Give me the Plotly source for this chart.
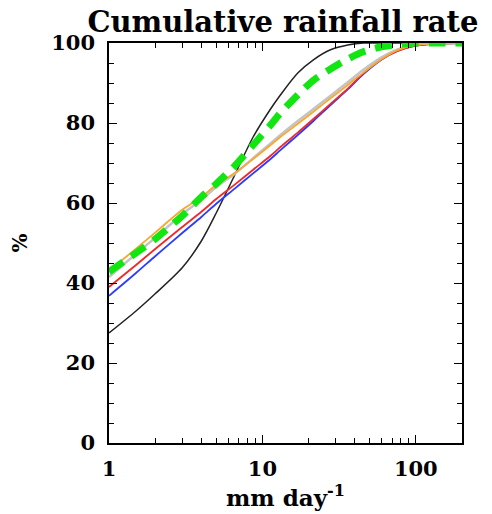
import plotly.graph_objects as go

# Rain rate grid (mm/day) and cumulative contribution (%) for each dataset
rate = [1, 1.5, 2, 3, 4, 5, 6.6, 8.7, 11.3, 13.1, 17, 21.5, 27.8, 36, 45.5, 59, 76, 98, 130, 200]

black_pct = [27.5, 33.0, 37.3, 43.8, 50.5, 57.5, 67.0, 76.5, 83.5, 87.0, 92.5, 95.8, 98.3, 99.5, 100, 100, 100, 100, 100, 100]
blue_pct = [36.8, 42.5, 46.7, 52.5, 56.5, 59.8, 63.6, 67.4, 71.0, 73.2, 77.0, 80.5, 84.5, 88.4, 92.2, 95.7, 98.0, 99.3, 99.8, 100]
red_pct = [39.0, 44.5, 48.5, 54.0, 57.8, 61.0, 64.6, 68.3, 71.8, 74.0, 77.6, 81.0, 84.8, 88.6, 92.4, 95.8, 98.0, 99.3, 99.8, 100]
gray_pct = [41.5, 47.3, 51.3, 57.2, 60.8, 64.0, 67.3, 71.2, 74.9, 77.0, 80.5, 83.5, 86.8, 90.2, 93.3, 96.3, 98.4, 99.6, 99.9, 100]
orange_pct = [43.0, 48.6, 52.6, 58.3, 61.5, 64.5, 67.5, 71.0, 74.5, 76.5, 79.8, 82.8, 86.2, 89.5, 92.6, 95.8, 98.2, 99.5, 99.9, 100]
green_pct = [42.8, 47.5, 51.0, 56.8, 61.5, 64.8, 69.3, 74.5, 79.5, 82.5, 87.0, 90.7, 93.5, 96.0, 97.8, 99.0, 99.6, 100, 100, 100]

series = [
    (black_pct, "#222222", 1.5, "solid"),
    (blue_pct, "#2a3cff", 1.8, "solid"),
    (red_pct, "#f02828", 1.8, "solid"),
    (gray_pct, "#c4c4c4", 2.5, "solid"),
    (orange_pct, "#f7a830", 1.8, "solid"),
    (green_pct, "#11e611", 7, "17px,10px"),
]

fig = go.Figure()
for vals, col, w, dash in series:
    fig.add_trace(go.Scatter(
        x=rate, y=vals, mode="lines",
        line=dict(color=col, width=w, dash=dash, shape="spline", smoothing=0.8),
        showlegend=False, hoverinfo="skip",
    ))

font_family = "DejaVu Serif"
axis_common = dict(
    showgrid=False, zeroline=False, automargin=False,
    showline=True, linecolor="black", linewidth=1.5,
    mirror="ticks", ticks="inside", ticklen=8, tickwidth=1.2, tickcolor="black",
    tickfont=dict(family=font_family, size=21, color="black", weight="bold"),
)

fig.update_xaxes(
    type="log", range=[0, 2.301],
    tickvals=[1, 10, 100], ticktext=["1", "10", "100"],
    minor=dict(ticks="inside", ticklen=5, tickwidth=1.2, tickcolor="black",
               tickvals=[2, 3, 4, 5, 6, 7, 8, 9, 20, 30, 40, 50, 60, 70, 80, 90, 200]),
    ticklabelstandoff=6,
    title=dict(text="mm day<sup>-1</sup>", standoff=10,
               font=dict(family=font_family, size=23, color="black", weight="bold")),
    **axis_common,
)
fig.update_yaxes(
    range=[0, 100], tickvals=[0, 20, 40, 60, 80, 100],
    minor=dict(ticks="inside", ticklen=5, tickwidth=1.2, tickcolor="black", dtick=5),
    ticklabelstandoff=8,
    title=dict(text="%", standoff=18,
               font=dict(family=font_family, size=20, color="black", weight="bold")),
    **axis_common,
)

fig.update_layout(
    width=492, height=514,
    margin=dict(l=109, r=30, t=43, b=71),
    paper_bgcolor="white", plot_bgcolor="white",
    title=dict(text="Cumulative rainfall rate", x=0.575, xanchor="center", y=0.957, yanchor="middle",
               font=dict(family=font_family, size=29, color="black", weight="bold")),
)

fig.write_html("out.html")
